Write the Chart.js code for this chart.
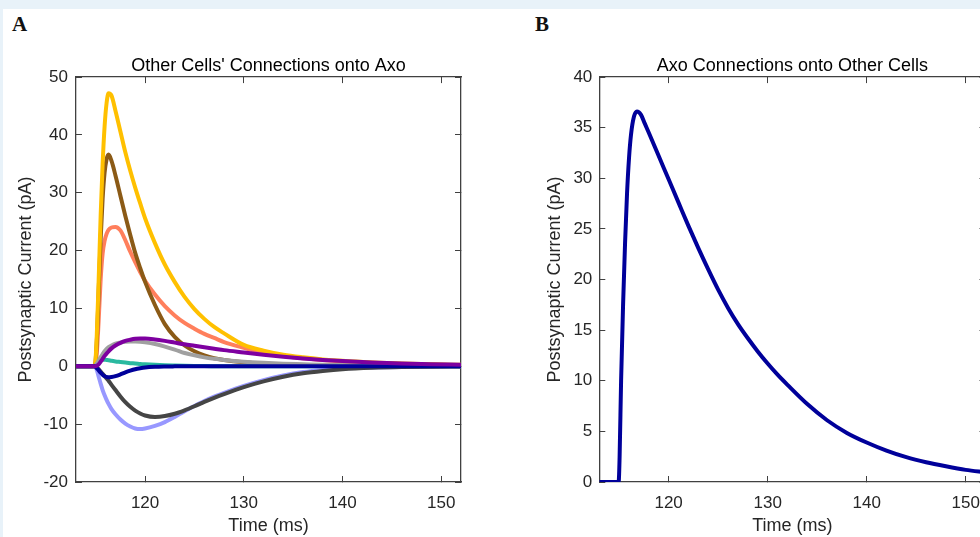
<!DOCTYPE html>
<html>
<head>
<meta charset="utf-8">
<script src="https://cdn.jsdelivr.net/npm/chart.js@4.4.1/dist/chart.umd.min.js"></script>
<style>
  html, body { margin: 0; padding: 0; width: 980px; height: 537px; overflow: hidden; background: #e8f2f9; }
  #panel { position: absolute; left: 3px; top: 9px; width: 1000px; height: 540px; background: #fff; }
  .letter { position: absolute; font-family: 'Liberation Serif', 'DejaVu Serif', serif; font-weight: bold; font-size: 21px; line-height: 1; color: #111; }
  #chartA { position: absolute; left: 0; top: 40px; }
  #chartB { position: absolute; left: 520px; top: 40px; }
</style>
</head>
<body>
<div id="panel"></div>
<div class="letter" style="left:12px; top:14px;">A</div>
<div class="letter" style="left:535px; top:14px;">B</div>
<canvas id="chartA" width="475" height="497"></canvas>
<canvas id="chartB" width="480" height="497"></canvas>
<script>
// panel A: time samples (ms) and currents (pA) per presynaptic cell
const timeA = [113, 114, 114.9, 115.1, 115.3, 115.5, 115.7, 115.9, 116.1, 116.3, 116.6,
  117, 117.5, 118, 118.5, 119, 119.5, 120, 121, 122, 123, 124, 125, 126, 127, 128,
  130, 132, 134, 136, 138, 140, 143, 146, 149, 152];

const goldA = [0, 0, 0, 5, 15, 26, 35, 41.5, 45.5, 47.2, 46.8, 44.2, 40.6, 37.0, 33.8, 30.9, 28.2, 25.6,
  21.3, 17.6, 14.6, 12.0, 9.9, 8.2, 6.8, 5.7, 3.7, 2.7, 2.0, 1.55, 1.2, 0.95, 0.68, 0.48, 0.34, 0.25];
const brownA = [0, 0, 0, 4, 13, 22, 29, 33.5, 35.8, 36.6, 35.5, 33.0, 29.5, 26.0, 22.7, 19.6, 17.0, 14.6,
  10.6, 7.3, 5.1, 3.6, 2.6, 1.9, 1.4, 1.1, 0.7, 0.45, 0.3, 0.2, 0.15, 0.1, 0.06, 0.04, 0.02, 0];
const salmonA = [0, 0, 0, 2, 8, 15, 19.5, 21.7, 22.9, 23.6, 24.0, 24.1, 23.5, 21.8, 19.8, 18.0, 16.3, 14.8,
  12.4, 10.4, 8.8, 7.5, 6.5, 5.6, 4.9, 4.2, 3.2, 2.3, 1.8, 1.4, 1.1, 0.85, 0.6, 0.42, 0.3, 0.22];
const grayA = [0, 0, 0, 0.4, 1.0, 1.6, 2.1, 2.6, 3.0, 3.3, 3.6, 3.9, 4.1, 4.25, 4.3, 4.3, 4.25, 4.15,
  3.85, 3.4, 2.9, 2.3, 1.9, 1.55, 1.3, 1.1, 0.8, 0.6, 0.45, 0.35, 0.25, 0.2, 0.12, 0.08, 0.05, 0.03];
const purpleA = [0, 0, 0, 0.1, 0.35, 0.8, 1.3, 1.8, 2.2, 2.6, 3.1, 3.6, 4.05, 4.4, 4.6, 4.75, 4.8, 4.8,
  4.65, 4.4, 4.1, 3.8, 3.55, 3.3, 3.05, 2.8, 2.4, 2.0, 1.65, 1.35, 1.1, 0.9, 0.65, 0.48, 0.36, 0.28];
const tealA = [0, 0, 0, 0.4, 0.8, 1.05, 1.15, 1.15, 1.1, 1.05, 0.95, 0.85, 0.75, 0.65, 0.55, 0.5, 0.42, 0.36,
  0.26, 0.18, 0.13, 0.09, 0.06, 0.04, 0.03, 0.02, 0.01, 0, 0, 0, 0, 0, 0, 0, 0, 0];
const navyA = [0, 0, 0, -0.3, -0.7, -1.1, -1.45, -1.7, -1.85, -1.9, -1.85, -1.7, -1.4, -1.05, -0.75, -0.5, -0.33, -0.2,
  -0.08, -0.03, -0.01, 0, 0, 0, 0, 0, 0, 0, 0, 0, 0, 0, 0, 0, 0, 0];
const darkGrayA = [0, 0, 0, -0.2, -0.5, -0.9, -1.3, -1.7, -2.1, -2.5, -3.2, -4.1, -5.2, -6.2, -7.0, -7.65, -8.15, -8.5,
  -8.75, -8.6, -8.2, -7.6, -6.9, -6.15, -5.45, -4.8, -3.6, -2.6, -1.8, -1.2, -0.8, -0.5, -0.25, -0.12, -0.06, -0.03];
const lightBlueA = [0, 0, 0, -0.6, -1.8, -3.0, -4.1, -5.0, -5.8, -6.5, -7.4, -8.3, -9.2, -9.9, -10.4, -10.75, -10.85, -10.75,
  -10.3, -9.65, -8.75, -7.75, -6.85, -6.0, -5.25, -4.6, -3.4, -2.4, -1.6, -1.0, -0.62, -0.38, -0.2, -0.1, -0.05, -0.02];

// panel B: Axo onto other cells
const timeB = [113, 114, 114.95, 115.05, 115.2, 115.4, 115.6, 115.8, 116.0, 116.2, 116.5, 116.8,
  117.2, 117.6, 118, 119, 120, 121, 122, 123, 124, 125, 126, 127, 128, 129, 130, 131, 132,
  134, 136, 138, 140, 142, 144, 146, 148, 150, 152];
const currentB = [0, 0, 0, 2.5, 10, 17.5, 23.6, 28.5, 32, 34.3, 36.1, 36.6,
  36.3, 35.4, 34.5, 32.2, 29.9, 27.6, 25.3, 23.1, 21.0, 19.0, 17.2, 15.6, 14.2, 12.9, 11.7, 10.6, 9.6,
  7.7, 6.1, 4.85, 3.9, 3.1, 2.45, 1.95, 1.55, 1.2, 0.95];

const xTicks = [120, 130, 140, 150];

Chart.defaults.font.family = "'Liberation Sans', Arial, sans-serif";

const axisColor = '#404040';
const textColor = '#262626';

let toPoints = (times, vals) => times.map((t, i) => ({ x: t, y: vals[i] }));

let line = (times, vals, color) => ({
  data: toPoints(times, vals),
  borderColor: color,
  borderWidth: 4,
  pointRadius: 0,
  cubicInterpolationMode: 'monotone',
  fill: false
});

// MATLAB-like boxed axes with ticks pointing inward
let makeChart = (id, datasets, yRange, titleText, yTitlePad, yTickPad, padRight) => {
  const grid = { drawOnChartArea: false, tickLength: -6, color: axisColor, lineWidth: 1 };
  const border = { color: axisColor, width: 1.3 };
  const xTickOpts = { stepSize: 10, includeBounds: false, maxRotation: 0 };
  return new Chart(document.getElementById(id), {
    type: 'line',
    data: { datasets: datasets },
    options: {
      responsive: false,
      animation: false,
      layout: { autoPadding: false, padding: { right: padRight } },
      plugins: {
        legend: { display: false },
        tooltip: { enabled: false },
        title: {
          display: true,
          text: titleText,
          fullSize: false,
          color: '#000',
          font: { size: 18, weight: 'normal' },
          padding: { top: 15.5, bottom: 0 }
        }
      },
      scales: {
        x: {
          type: 'linear', position: 'bottom', min: 113, max: 152,
          ticks: Object.assign({ padding: 17, color: textColor, font: { size: 17 } }, xTickOpts),
          afterBuildTicks: (s) => { s.ticks = xTicks.map(v => ({ value: v })); },
          // Chart.js reserves the tick padding twice; keep it once
          afterFit: (s) => { s.height -= s.options.ticks.padding; },
          grid: grid, border: border,
          title: { display: true, text: 'Time (ms)', color: textColor, font: { size: 18 }, padding: { top: 2, bottom: 0 } }
        },
        x2: {
          type: 'linear', position: 'top', min: 113, max: 152,
          ticks: Object.assign({ display: false }, xTickOpts),
          grid: grid, border: border,
          afterFit: (s) => { s.height = 0; }
        },
        y: {
          type: 'linear', position: 'left', min: yRange[0], max: yRange[1],
          ticks: { stepSize: yRange[2], padding: yTickPad, color: textColor, font: { size: 17 } },
          afterFit: (s) => { s.width -= s.options.ticks.padding; },
          grid: grid, border: border,
          title: { display: true, text: 'Postsynaptic Current (pA)', color: textColor, font: { size: 18 }, padding: yTitlePad }
        },
        y2: {
          type: 'linear', position: 'right', min: yRange[0], max: yRange[1],
          ticks: { display: false, stepSize: yRange[2] },
          grid: grid, border: border,
          afterFit: (s) => { s.width = 0; }
        }
      }
    }
  });
};

document.addEventListener('DOMContentLoaded', () => {
  // first dataset is painted on top
  makeChart('chartA', [
    line(timeA, purpleA, '#7e00a0'),
    line(timeA, navyA, '#00009a'),
    line(timeA, darkGrayA, '#454545'),
    line(timeA, lightBlueA, '#9898ff'),
    line(timeA, grayA, '#a0a0a0'),
    line(timeA, tealA, '#2ab9a0'),
    line(timeA, goldA, '#ffc000'),
    line(timeA, brownA, '#8b5a16'),
    line(timeA, salmonA, '#ff7f5c')
  ], [-20, 50, 10], "Other Cells' Connections onto Axo", { top: 15.2, bottom: 6.6 }, 14, 14);

  makeChart('chartB', [
    line(timeB, currentB, '#00009a')
  ], [0, 40, 5], 'Axo Connections onto Other Cells', { top: 24.2, bottom: 7.6 }, 13, 14.5);
});
</script>
</body>
</html>
